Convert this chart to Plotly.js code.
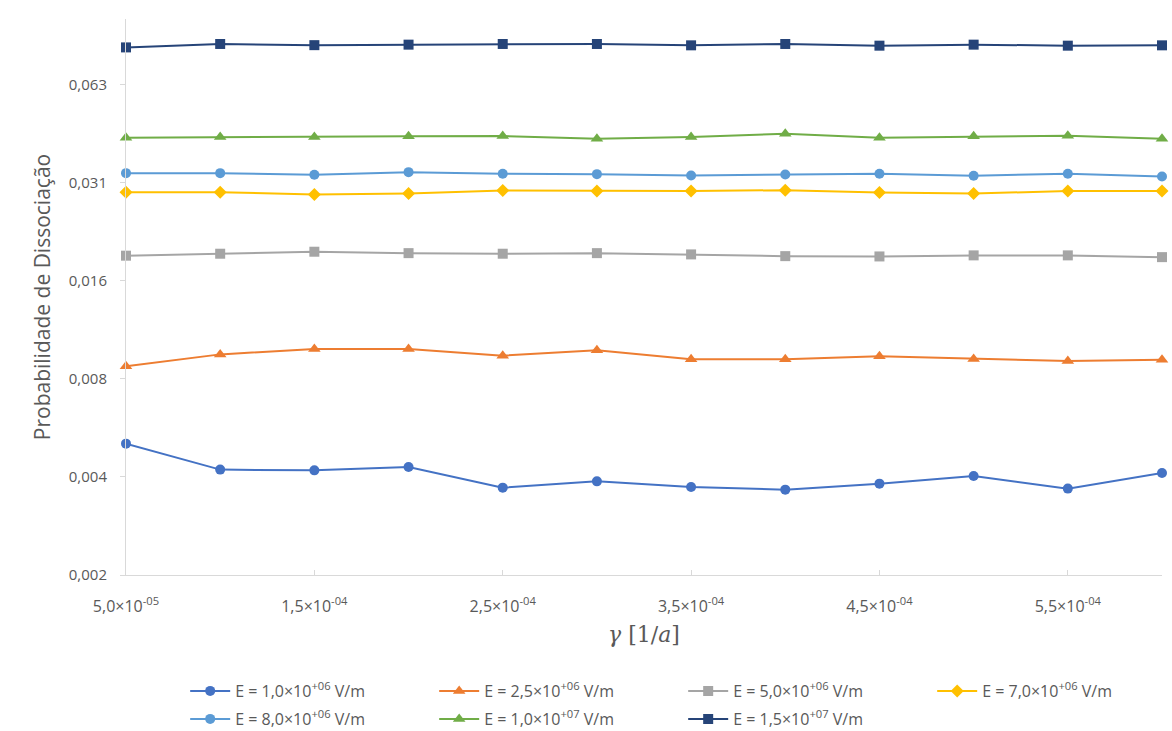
<!DOCTYPE html>
<html>
<head>
<meta charset="utf-8">
<script src="https://cdn.plot.ly/plotly-3.0.1.min.js"></script>
<style>html,body{margin:0;padding:0;background:#fff;}#chart{width:1172px;height:731px;}</style>
</head>
<body>
<div id="chart"></div>
<script>
// x values: gamma [1/a]
const gamma = [5e-5, 1e-4, 1.5e-4, 2e-4, 2.5e-4, 3e-4, 3.5e-4, 4e-4, 4.5e-4, 5e-4, 5.5e-4, 6e-4];

const seriesNames = [
  "E = 1,0×10<sup>+06</sup> V/m",
  "E = 2,5×10<sup>+06</sup> V/m",
  "E = 5,0×10<sup>+06</sup> V/m",
  "E = 7,0×10<sup>+06</sup> V/m",
  "E = 8,0×10<sup>+06</sup> V/m",
  "E = 1,0×10<sup>+07</sup> V/m",
  "E = 1,5×10<sup>+07</sup> V/m"
];

const pE1_0e6 = [0.004943, 0.004114, 0.004093, 0.00419, 0.003622, 0.003787, 0.003638, 0.003571, 0.003726, 0.003932, 0.003597, 0.004016];
const pE2_5e6 = [0.008537, 0.009292, 0.009647, 0.009647, 0.009208, 0.009559, 0.00897, 0.00897, 0.009162, 0.008988, 0.008862, 0.008951];
const pE5_0e6 = [0.01867, 0.01893, 0.0192, 0.01901, 0.01893, 0.01901, 0.01884, 0.01861, 0.01857, 0.01871, 0.01871, 0.01848];
const pE7_0e6 = [0.02926, 0.02926, 0.02878, 0.02899, 0.02961, 0.02947, 0.02947, 0.02967, 0.0292, 0.02899, 0.02947, 0.02947];
const pE8_0e6 = [0.03346, 0.03346, 0.03309, 0.0337, 0.03332, 0.03323, 0.03292, 0.03316, 0.03332, 0.03285, 0.03332, 0.03269];
const pE1_0e7 = [0.0430, 0.0432, 0.0432, 0.0434, 0.0435, 0.0427, 0.0432, 0.0442, 0.0430, 0.0434, 0.0436, 0.0427];
const pE1_5e7 = [0.0814, 0.0834, 0.0827, 0.0830, 0.0834, 0.0834, 0.0826, 0.0834, 0.0824, 0.0830, 0.0824, 0.0826];

const xTickVals = [5e-5, 1.5e-4, 2.5e-4, 3.5e-4, 4.5e-4, 5.5e-4];
const xTickText = ["5,0×10<sup>-05</sup>", "1,5×10<sup>-04</sup>", "2,5×10<sup>-04</sup>", "3,5×10<sup>-04</sup>", "4,5×10<sup>-04</sup>", "5,5×10<sup>-04</sup>"];
const yTickVals = [0.001953125, 0.00390625, 0.0078125, 0.015625, 0.03125, 0.0625];
const yTickText = ["0,002", "0,004", "0,008", "0,016", "0,031", "0,063"];

const seriesData = [pE1_0e6, pE2_5e6, pE5_0e6, pE7_0e6, pE8_0e6, pE1_0e7, pE1_5e7];
const colors = ["#4472C4", "#ED7D31", "#A5A5A5", "#FFC000", "#5B9BD5", "#70AD47", "#264478"];
const symbols = ["circle", "triangle-up", "square", "diamond", "circle", "triangle-up", "square"];
const sizes = [10, 11, 10, 10, 10, 11, 10];

const traces = seriesData.map((ys, i) => ({
  type: "scatter",
  mode: "lines+markers",
  x: gamma,
  y: ys,
  name: seriesNames[i],
  legend: i < 4 ? "legend" : "legend2",
  line: {color: colors[i], width: 2},
  marker: {color: colors[i], symbol: symbols[i], size: sizes[i]},
  cliponaxis: false
}));

const font = {family: "Open Sans, sans-serif", color: "#595959"};

function legendRow(topPx) {
  return {
    orientation: "h",
    xref: "container",
    yref: "container",
    x: 0.158,
    xanchor: "left",
    y: 1 - topPx / 731,
    yanchor: "top",
    itemwidth: 40,
    entrywidth: 194,
    entrywidthmode: "pixels",
    font: {size: 16, family: font.family, color: "#595959"},
    bgcolor: "rgba(0,0,0,0)"
  };
}

const layout = {
  width: 1172,
  height: 731,
  paper_bgcolor: "#ffffff",
  plot_bgcolor: "#ffffff",
  margin: {l: 126, r: 10, t: 19, b: 156},
  font: Object.assign({size: 15}, font),
  showlegend: true,
  xaxis: {
    range: [5e-5, 6e-4],
    tickvals: xTickVals,
    ticktext: xTickText,
    ticks: "inside",
    ticklen: 5,
    tickcolor: "#d9d9d9",
    ticklabelstandoff: 17,
    showgrid: false,
    zeroline: false,
    showline: true,
    linecolor: "#d9d9d9",
    linewidth: 1,
    tickfont: {size: 16, family: font.family, color: "#595959"},
    title: {text: "<i>γ</i> [1/<i>a</i>]", font: {family: "DejaVu Serif, serif", size: 22, color: "#595959"}, standoff: 10}
  },
  yaxis: {
    type: "log",
    range: [Math.log10(0.001953125), Math.log10(0.0995)],
    tickvals: yTickVals,
    ticktext: yTickText,
    ticks: "outside",
    ticklen: 5,
    tickcolor: "#d9d9d9",
    ticklabelstandoff: 10,
    showgrid: false,
    zeroline: false,
    showline: true,
    linecolor: "#d9d9d9",
    linewidth: 1,
    tickfont: {size: 15, family: font.family, color: "#595959"},
    title: {text: "Probabilidade de Dissociação", font: {family: font.family, size: 21, color: "#595959"}, standoff: 12}
  },
  legend: legendRow(674),
  legend2: legendRow(702)
};

Plotly.newPlot("chart", traces, layout, {displayModeBar: false, staticPlot: true});
</script>
</body>
</html>
